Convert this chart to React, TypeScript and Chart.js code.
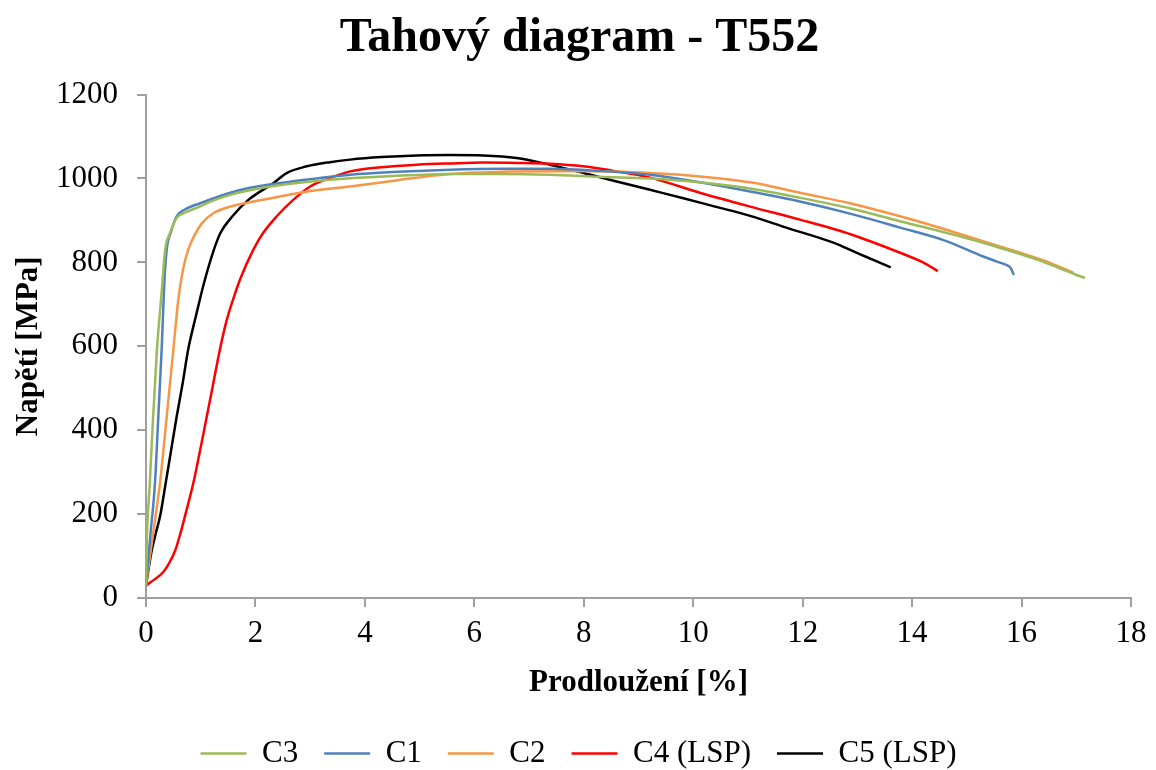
import React, { useEffect, useRef } from 'react';
import { Chart, registerables } from 'chart.js';

Chart.register(...registerables);

const FONT = "'Liberation Serif', 'Times New Roman', Times, serif";

const TITLE = 'Tahový diagram - T552';
const X_TITLE = 'Prodloužení [%]';
const Y_TITLE = 'Napětí [MPa]';

const SERIES_NAMES = ['C3', 'C1', 'C2', 'C4 (LSP)', 'C5 (LSP)'];
const SERIES_COLORS = ['#9BBB59', '#4F81BD', '#F79646', '#FF0000', '#000000'];

const X_MIN = 0;
const X_MAX = 18;
const X_STEP = 2;
const Y_MIN = 0;
const Y_MAX = 1200;
const Y_STEP = 200;

// C3
const c3X = [0, 0.01, 0.07, 0.13, 0.2, 0.29, 0.35, 0.44, 0.56, 0.7, 0.93, 1.2, 1.54, 2.14, 2.8, 3.36, 4.5, 5.56, 6.5, 7.38, 8.3, 9.21, 10.12, 11.04, 11.95, 12.9, 13.78, 14.7, 15.6, 16.3, 16.83, 17.0, 17.16];
const c3Y = [30, 114, 274, 432, 592, 735, 830, 870, 906, 918, 930, 946, 961, 978, 990, 997, 1006, 1011, 1011, 1009, 1004, 1000, 991, 976, 954, 928, 898, 868, 835, 806, 779, 770, 763];

// C1
const c1X = [0, 0.08, 0.164, 0.225, 0.286, 0.335, 0.378, 0.45, 0.56, 0.71, 0.99, 1.54, 1.9, 2.8, 3.73, 4.6, 5.56, 6.5, 7.38, 8.3, 9.21, 10.12, 11.04, 11.95, 12.9, 13.78, 14.6, 15.3, 15.55, 15.72, 15.8, 15.86];
const c1Y = [30, 150, 274, 432, 592, 751, 830, 870, 910, 926, 941, 966, 978, 995, 1009, 1016, 1021, 1023, 1023, 1018, 1009, 991, 969, 945, 915, 883, 852, 814, 802, 794, 787, 770];

// C2
const c2X = [0, 0.1, 0.18, 0.256, 0.378, 0.5, 0.59, 0.68, 0.77, 0.9, 1.02, 1.23, 1.54, 1.96, 2.45, 3.0, 3.73, 4.6, 5.56, 6.5, 7.38, 8.3, 9.21, 10.12, 11.04, 11.95, 12.9, 13.78, 14.7, 15.6, 16.1, 16.52, 16.95];
const c2Y = [30, 125, 200, 274, 432, 592, 711, 785, 830, 868, 893, 917, 933, 945, 957, 970, 981, 996, 1011, 1016, 1017, 1017, 1013, 1005, 991, 966, 940, 910, 875, 838, 818, 799, 775];

// C4 (LSP)
const c4X = [0, 0.164, 0.317, 0.41, 0.53, 0.62, 0.71, 0.865, 0.99, 1.11, 1.23, 1.35, 1.47, 1.6, 1.72, 1.96, 2.14, 2.39, 2.69, 3.0, 3.36, 3.73, 4.3, 4.95, 5.56, 6.16, 6.8, 7.38, 7.99, 8.6, 9.21, 10.12, 11.04, 11.95, 12.9, 13.78, 14.2, 14.47];
const c4Y = [30, 45, 62, 80, 112, 150, 194, 274, 353, 432, 512, 592, 660, 715, 760, 830, 870, 910, 949, 981, 1001, 1017, 1027, 1033, 1036, 1038, 1037, 1035, 1029, 1017, 1002, 966, 933, 902, 866, 823, 800, 779];

// C5 (LSP)
const c5X = [0, 0.1, 0.18, 0.256, 0.36, 0.46, 0.56, 0.67, 0.77, 0.91, 1.06, 1.24, 1.36, 1.58, 1.87, 2.1, 2.33, 2.57, 2.94, 3.36, 3.73, 4.3, 4.95, 5.56, 6.16, 6.77, 7.38, 8.0, 8.6, 9.21, 9.82, 10.4, 11.04, 11.7, 12.56, 13.0, 13.29, 13.61];
const c5Y = [30, 110, 155, 194, 274, 353, 432, 512, 592, 671, 751, 830, 870, 910, 949, 970, 989, 1013, 1029, 1039, 1045, 1051, 1055, 1056, 1055, 1049, 1033, 1013, 993, 973, 953, 933, 911, 883, 847, 822, 806, 788];

const SERIES_X = [c3X, c1X, c2X, c4X, c5X];
const SERIES_Y = [c3Y, c1Y, c2Y, c4Y, c5Y];

const AXIS_COLOR = '#a0a0a0';

const boxShift = {
  id: 'boxShift',
  afterLayout(chart: any) {
    const l = chart.legend;
    if (l) {
      l.left += 13;
      l.right += 13;
    }
    const t = chart.titleBlock;
    if (t) {
      t.left += 14;
      t.right += 14;
    }
  },
};

export default function App() {
  const canvasRef = useRef<HTMLCanvasElement | null>(null);

  useEffect(() => {
    const canvas = canvasRef.current;
    if (!canvas) return;

    const datasets = SERIES_NAMES.map((name, i) => ({
      label: name,
      data: SERIES_X[i].map((x, j) => ({ x, y: SERIES_Y[i][j] })),
      borderColor: SERIES_COLORS[i],
      backgroundColor: SERIES_COLORS[i],
      borderWidth: 2.5,
      showLine: true,
      pointRadius: 0,
      pointHoverRadius: 0,
      fill: false,
      cubicInterpolationMode: 'monotone' as const,
    }));

    const chart = new Chart(canvas, {
      type: 'scatter',
      data: { datasets },
      plugins: [boxShift],
      options: {
        responsive: false,
        devicePixelRatio: 1,
        animation: false,
        layout: { padding: { left: 0, right: 25, top: 0, bottom: 0 } },
        plugins: {
          tooltip: { enabled: false },
          title: {
            display: true,
            text: TITLE,
            color: '#000',
            font: { family: FONT, size: 48, weight: 'bold', lineHeight: 1.2 },
            padding: { top: 10, bottom: 27 },
          },
          legend: {
            display: true,
            position: 'bottom',
            labels: {
              color: '#000',
              font: { family: FONT, size: 31 },
              usePointStyle: true,
              pointStyle: 'line',
              pointStyleWidth: 46,
              boxHeight: 31,
              padding: 26,
            },
          },
        },
        scales: {
          x: {
            type: 'linear',
            min: X_MIN,
            max: X_MAX,
            ticks: {
              stepSize: X_STEP,
              color: '#000',
              font: { family: FONT, size: 31 },
              padding: 8,
              maxRotation: 0,
              callback: (v: any) => String(v),
            },
            grid: {
              drawOnChartArea: false,
              drawTicks: true,
              tickLength: 9,
              color: AXIS_COLOR,
              lineWidth: 2,
            },
            border: { display: true, color: AXIS_COLOR, width: 2 },
            title: {
              display: true,
              text: X_TITLE,
              color: '#000',
              font: { family: FONT, size: 31, weight: 'bold', lineHeight: 1.2 },
              padding: { top: 0, bottom: 10 },
            },
            afterFit: (scale: any) => {
              scale.height = 114;
            },
          },
          y: {
            type: 'linear',
            min: Y_MIN,
            max: Y_MAX,
            ticks: {
              stepSize: Y_STEP,
              color: '#000',
              font: { family: FONT, size: 31 },
              padding: 19,
              callback: (v: any) => String(v),
            },
            grid: {
              drawOnChartArea: false,
              drawTicks: true,
              tickLength: 9,
              color: AXIS_COLOR,
              lineWidth: 2,
            },
            border: { display: true, color: AXIS_COLOR, width: 2 },
            title: {
              display: true,
              text: Y_TITLE,
              color: '#000',
              font: { family: FONT, size: 31, weight: 'bold', lineHeight: 1.2 },
              padding: { top: 10, bottom: 0 },
            },
            afterFit: (scale: any) => {
              scale.width = 146;
            },
          },
        },
      },
    });

    return () => {
      chart.destroy();
    };
  }, []);

  return (
    <div
      style={{
        position: 'fixed',
        left: 0,
        top: 0,
        width: 1156,
        height: 770,
        overflow: 'hidden',
        background: '#fff',
      }}
    >
      <canvas ref={canvasRef} width={1156} height={779} style={{ display: 'block' }} />
    </div>
  );
}
